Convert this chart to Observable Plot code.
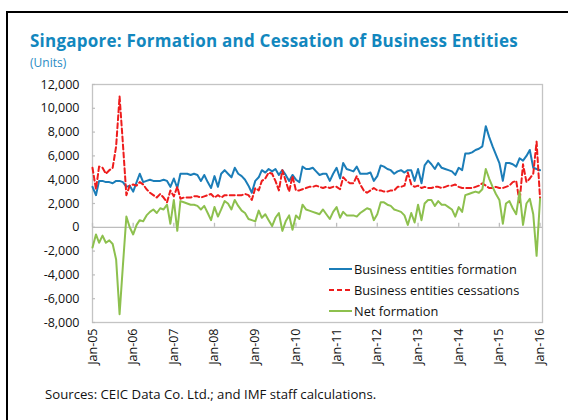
<!DOCTYPE html>
<html><head><meta charset="utf-8">
<script src="https://cdn.jsdelivr.net/npm/d3@7"></script>
<script src="https://cdn.jsdelivr.net/npm/@observablehq/plot@0.6"></script>
<style>
html,body{margin:0;padding:0;background:#fff;width:568px;height:420px;overflow:hidden;font-family:"Open Sans",sans-serif;}
#frame{position:absolute;left:6px;top:11px;width:620px;height:520px;border-left:2px solid #000;border-top:2px solid #000;}
#title{position:absolute;left:30px;top:32px;font-weight:700;font-size:17px;line-height:1;color:#1287be;white-space:nowrap;}
#units{position:absolute;left:30px;top:57px;font-size:12px;line-height:1;color:#2a8cc4;}
#chart{position:absolute;left:0;top:70px;}
#legend{position:absolute;left:329px;top:0;font-size:12.8px;color:#111;}
.row{position:absolute;left:0;height:16px;white-space:nowrap;display:flex;align-items:center;}
.row svg{display:block;margin-right:2px;}
#caption{position:absolute;left:45px;top:388px;font-size:13.2px;line-height:1;color:#111;white-space:nowrap;}
</style></head><body>
<div id="frame"></div>
<div id="title">Singapore: Formation and Cessation of Business Entities</div>
<div id="units">(Units)</div>
<div id="chart"></div>
<div id="legend"></div>
<div id="caption">Sources: CEIC Data Co. Ltd.; and IMF staff calculations.</div>
<script>
// Monthly values, Jan-05 .. Jan-16
const formation = [
 3400,2700,3900,3900,3800,3800,3700,3900,3900,3800,3400,3500,
 3000,3800,4500,3800,3900,4000,3900,3900,3900,4000,3900,3400,
 4100,3300,4500,4500,4500,4400,4500,4400,3900,4400,3800,3300,
 4300,3400,4500,4800,4500,4200,5000,4500,4300,4000,3500,2900,
 3900,4200,4800,4600,4900,4700,4900,4400,4800,4400,3900,4400,
 4000,3800,5100,4900,4900,5000,4700,4400,4500,4500,3900,4500,
 5000,4100,5400,4900,4800,4700,5100,4500,4500,4500,4600,3900,
 4300,5200,5100,4900,4800,4500,4700,4800,4600,4800,4800,3900,
 4900,3700,5200,5600,5300,4900,5400,5000,4900,4800,4700,4400,
 5000,4800,6200,6200,6300,6500,6600,6800,8500,7600,6800,6100,
 5400,3900,5400,5400,5300,5100,5800,5600,6000,6500,5000,4900,
 4800];
const cessations = [
 5000,3200,5100,5000,4500,4800,5000,6800,11000,7000,2700,3500,
 3600,3500,3800,3600,3200,2900,2700,2500,2800,2500,2100,3100,
 2600,3400,2400,2500,2500,2500,2600,2600,2500,2600,2700,2800,
 2500,2700,2500,2700,2700,2700,2700,2700,2700,2800,2700,2300,
 3300,3100,3900,4100,4600,4500,3900,3100,4800,3900,3000,4300,
 3100,3100,3200,3300,3400,3400,3500,3400,3300,3400,3300,3400,
 3400,3200,4200,3900,3700,3700,4300,3600,3100,2900,3100,3300,
 3100,3100,3000,3000,3100,3100,3400,3400,3500,4600,3600,3400,
 3500,3300,3400,3300,3300,3400,3400,3300,3400,3500,3500,3600,
 3400,3300,3300,3300,3300,3400,3500,3700,3500,3300,3300,3400,
 3300,3300,3400,3500,3800,3900,2100,5300,3800,4100,4500,7200,
 2400];
const net = [
 -1700,-600,-1300,-700,-1300,-1100,-1400,-2700,-7300,-3200,900,0,
 -600,200,600,500,1000,1300,1500,1200,1600,1500,1900,300,
 2300,-300,2200,2100,2000,1900,1900,1800,1500,1800,1200,600,
 1700,900,1500,2200,2000,1500,2300,1800,1400,1200,700,600,
 500,1400,800,1100,600,100,800,1200,-300,500,1000,-200,
 1000,700,1900,1500,1400,1300,1200,1100,1500,1100,700,1300,
 1700,800,1300,1000,1000,1000,900,1200,1400,1600,1500,600,
 1100,2100,2100,1900,1800,1500,1400,1300,1000,200,1200,400,
 1900,600,2000,2300,2300,1800,2200,1900,1900,1700,1500,900,
 1700,1300,2700,2800,2900,3000,2900,3200,4900,4100,3400,2800,
 2300,300,2000,2200,1600,1100,3000,200,2000,2400,1100,-2400,
 2400];
const seriesNames = ["Business entities formation","Business entities cessations","Net formation"];
const seriesColors = ["#1b7db8","#ee1c1c","#8dc04e"];
const yTicks = [-8000,-6000,-4000,-2000,0,2000,4000,6000,8000,10000,12000];
const xTickYears = [2005,2006,2007,2008,2009,2010,2011,2012,2013,2014,2015,2016];

const months = d3.utcMonth.range(new Date(Date.UTC(2005,0,1)), new Date(Date.UTC(2016,1,1)));
const rows = months.map((d,i)=>({date:d, formation:formation[i], cessations:cessations[i], net:net[i]}));
const yearTicks = xTickYears.map(y=>new Date(Date.UTC(y,0,1)));
const fmtY = d => d3.format(",")(d).replace("\u2212","-");
const fmtX = d3.utcFormat("%b-%y");

const chart = Plot.plot({
  width: 568, height: 320,
  marginLeft: 92, marginRight: 26, marginTop: 14, marginBottom: 68,
  style: {fontFamily: '"Open Sans", sans-serif', fontSize: "12.5px", color: "#111", background: "transparent", overflow: "visible"},
  x: {type: "utc", domain: [new Date(Date.UTC(2005,0,1)), new Date(Date.UTC(2016,0,23))]},
  y: {domain: [-8000, 12000]},
  marks: [
    Plot.frame({stroke: "#c4c4c4", strokeWidth: 1.3}),
    Plot.ruleY([0], {stroke: "#bdbdbd", strokeWidth: 1.3}),
    Plot.ruleX(yearTicks, {x: d=>d, y1: 0, y2: 0, insetTop: -4, stroke: "#bdbdbd", strokeWidth: 1.3}),
    Plot.tickY(yTicks, {y: d=>d, insetRight: 447, stroke: "#bdbdbd", strokeWidth: 1.2}),
    Plot.axisY({ticks: yTicks, tickSize: 0, tickPadding: 13, tickFormat: fmtY, label: null}),
    Plot.axisX({ticks: yearTicks, tickSize: 0, tickRotate: -90, tickPadding: 6, tickFormat: fmtX, label: null}),
    Plot.line(rows, {x: "date", y: "formation", stroke: seriesColors[0], strokeWidth: 2}),
    Plot.line(rows, {x: "date", y: "cessations", stroke: seriesColors[1], strokeWidth: 2, strokeDasharray: "5,3"}),
    Plot.line(rows, {x: "date", y: "net", stroke: seriesColors[2], strokeWidth: 2})
  ]
});
document.getElementById("chart").appendChild(chart);

// legend
const leg = document.getElementById("legend");
const legY = [269, 290, 311];
seriesNames.forEach((name, i) => {
  const r = document.createElement("div");
  r.className = "row";
  r.style.top = (legY[i] - 8) + "px";
  const dash = i === 1 ? ' stroke-dasharray="5,3"' : '';
  r.innerHTML = `<svg width="23" height="16"><line x1="0" x2="23" y1="8" y2="8" stroke="${seriesColors[i]}" stroke-width="2"${dash}/></svg><span>${name}</span>`;
  leg.appendChild(r);
});

// fit title width to reference
const t = document.getElementById("title");
const w = t.getBoundingClientRect().width;
t.style.letterSpacing = ((488 - w) / t.textContent.length) + "px";
</script>
</body></html>
